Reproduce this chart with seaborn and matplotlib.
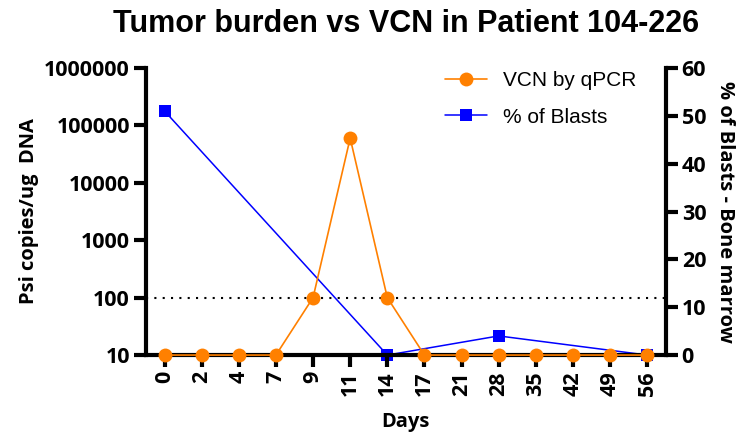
import pandas as pd
import matplotlib.pyplot as plt
import seaborn as sns

days = ["0", "2", "4", "7", "9", "11", "14", "17", "21", "28", "35", "42", "49", "56"]
vcn = [10, 10, 10, 10, 100, 60000, 100, 10, 10, 10, 10, 10, 10, 10]
blast_days = ["0", "14", "28", "56"]
blasts = [51, 0, 4, 0]

sns.set_theme(style="ticks")
plt.rcParams['font.family'] = ['Open Sans', 'DejaVu Sans']
plt.rcParams['text.color'] = 'black'
plt.rcParams['axes.labelcolor'] = 'black'
plt.rcParams['xtick.color'] = 'black'
plt.rcParams['ytick.color'] = 'black'
plt.rcParams['axes.edgecolor'] = 'black'

vcn_df = pd.DataFrame({"day": days, "vcn": vcn})
vcn_df["pos"] = range(len(days))
blast_df = pd.DataFrame({"day": blast_days, "blasts": blasts})
blast_df["pos"] = [days.index(d) for d in blast_days]

fig = plt.figure(figsize=(7.43, 4.33), dpi=100)
ax = fig.add_axes([0.1965, 0.180, 0.6995, 0.663])
ax2 = ax.twinx()

orange = "#FF8000"
blue = "#0000FF"

sns.lineplot(data=vcn_df, x="pos", y="vcn", ax=ax, color=orange, marker="o",
             markersize=10, markeredgewidth=0, linewidth=1.2, label="VCN by qPCR",
             legend=False, clip_on=False, zorder=5)
sns.lineplot(data=blast_df, x="pos", y="blasts", ax=ax2, color=blue, marker="s",
             markersize=9, markeredgewidth=0, linewidth=1.1, label="% of Blasts",
             legend=False, clip_on=False, zorder=5)
ax.axhline(100, color="black", linestyle=(0, (1, 3)), linewidth=1.5)

ax.set_zorder(ax2.get_zorder() + 1)
ax.patch.set_visible(False)

ax.set_yscale("log")
ax.set_ylim(10, 1000000)
ax.set_yticks([10, 100, 1000, 10000, 100000, 1000000])
ax.set_yticklabels(["10", "100", "1000", "10000", "100000", "1000000"])
ax.minorticks_off()
ax2.set_ylim(0, 60)
ax2.set_yticks([0, 10, 20, 30, 40, 50, 60])
ax.set_xlim(-0.5, len(days) - 0.5)
ax.set_xticks(range(len(days)))
ax.set_xticklabels(days, rotation=90)

for a in (ax, ax2):
    for s in a.spines.values():
        s.set_linewidth(3)
        s.set_color("black")
    a.spines["top"].set_visible(False)
    a.tick_params(width=3, length=8.5, labelsize=15.5, colors="black", pad=3)
    for lab in a.get_xticklabels() + a.get_yticklabels():
        lab.set_fontweight("bold")
ax2.spines["left"].set_visible(False)
ax2.spines["bottom"].set_visible(False)
ax.spines["right"].set_visible(False)

ax.set_xlabel("Days", fontsize=14.5, fontweight="bold", labelpad=12)
ax.set_ylabel("Psi copies/ug  DNA", fontsize=14.5, fontweight="bold", labelpad=4)
ax2.set_ylabel("% of Blasts - Bone marrow", fontsize=14.5, fontweight="bold",
               rotation=270, labelpad=21)
ax.set_title("Tumor burden vs VCN in Patient 104-226", fontsize=22, fontweight="bold",
             family=["Liberation Sans", "DejaVu Sans"], pad=26)

h1, l1 = ax.get_legend_handles_labels()
h2, l2 = ax2.get_legend_handles_labels()
ax.legend(h1 + h2, l1 + l2, loc="upper right", bbox_to_anchor=(0.98, 1.055), frameon=False,
          prop={"family": ["Liberation Sans", "DejaVu Sans"], "size": 15},
          labelspacing=0.85, handlelength=2.0)

fig.savefig("out.png", dpi=100)
